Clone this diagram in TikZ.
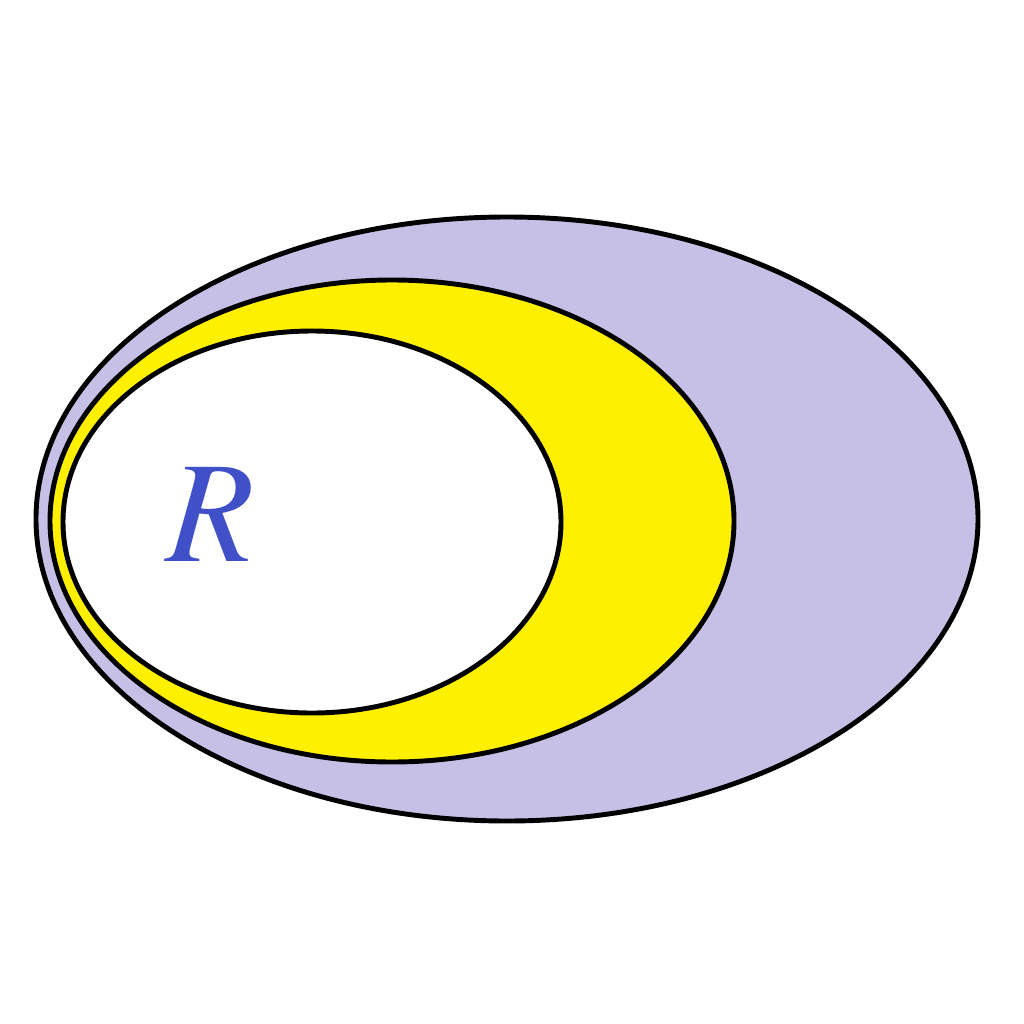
\documentclass[tikz,border=0pt]{standalone}
\usepackage{mathptmx}
\definecolor{lav}{RGB}{198,192,230}
\definecolor{yel}{RGB}{255,240,0}
\definecolor{rblue}{RGB}{64,80,200}
\begin{document}
\begin{tikzpicture}[x=0.01cm,y=-0.01cm,
  ring/.style={draw=black,line width=1.4pt}]
\useasboundingbox[fill=white] (0,0) rectangle (1024,1024);
\path[ring,fill=lav] (507,519) ellipse [x radius=471,y radius=302];
\path[ring,fill=yel] (392,521) ellipse [x radius=342,y radius=241];
\path[ring,fill=white] (312,522) ellipse [x radius=249,y radius=191];
\node[text=rblue,font=\fontsize{41}{47}\selectfont,inner sep=0pt] (r) at (211,515) {$R$};
\end{tikzpicture}
\end{document}
